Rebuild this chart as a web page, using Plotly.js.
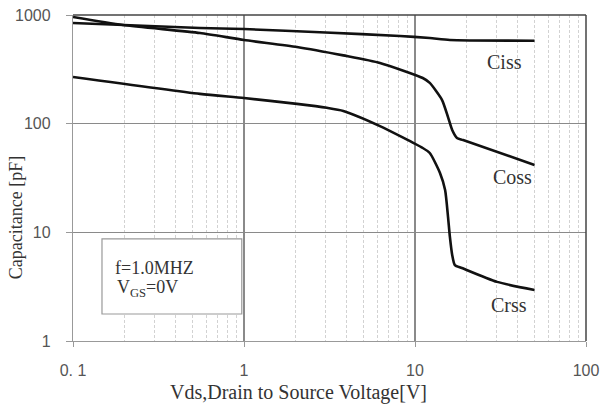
<!DOCTYPE html>
<html>
<head>
<meta charset="utf-8">
<script src="https://cdn.plot.ly/plotly-3.0.1.min.js"></script>
<style>html,body{margin:0;padding:0;background:#fff;}#chart{width:601px;height:414px;}</style>
</head>
<body>
<div id="chart"></div>
<script>
// Data (Vds in V, capacitance in pF)
const cissV = [0.1, 0.553, 1.0, 3.0, 8.17, 12.2, 16.0, 50];
const cissC = [844, 759, 743, 690, 641, 614, 589, 580];

const cossV = [0.1, 0.196, 0.553, 1.0, 2.04, 3.81, 6.24, 11.1, 12.2, 14.4, 15.6, 16.5, 17.6, 19.1, 50];
const cossC = [960, 809, 683, 589, 508, 425, 362, 263, 237, 165, 115, 87.5, 73.9, 70.7, 41.7];

const crssV = [0.1, 0.553, 1.0, 2.04, 3.05, 3.81, 6.24, 11.1, 12.2, 14.0, 15.0, 15.6, 16.0, 16.5, 17.1, 18.8, 30.2, 50];
const crssC = [269, 188, 172, 152, 140, 131, 95, 59.7, 53.7, 35.2, 24.5, 13.9, 9.08, 6.2, 5.0, 4.7, 3.5, 2.95];

const xTickVals = [0.1, 1, 10, 100];
const xTickText = ['0. 1', '1', '10', '100'];
const yTickVals = [1, 10, 100, 1000];
const yTickText = ['1', '10', '100', '1000'];
const xMinorVals = [0.2,0.3,0.4,0.5,0.6,0.7,0.8,0.9,2,3,4,5,6,7,8,9,20,30,40,50,60,70,80,90];

const lineStyle = {color: '#111', width: 2.6, shape: 'spline', smoothing: 0.6};
const traces = [
  {x: cissV, y: cissC, mode: 'lines', line: lineStyle, name: 'Ciss', hoverinfo: 'skip'},
  {x: cossV, y: cossC, mode: 'lines', line: lineStyle, name: 'Coss', hoverinfo: 'skip'},
  {x: crssV, y: crssC, mode: 'lines', line: lineStyle, name: 'Crss', hoverinfo: 'skip'}
];

const serif = 'Liberation Serif, Times New Roman, serif';
const tickFont = {family: 'Liberation Sans, Arial, sans-serif', size: 16, color: '#555'};
const ann = (x, y, text, size, extra) => Object.assign({xref: 'paper', yref: 'paper', x: x, y: y, text: text,
  showarrow: false, xanchor: 'center', yanchor: 'middle', font: {family: serif, size: size, color: '#333'}}, extra || {});

const layout = {
  width: 601, height: 414,
  margin: {l: 73, r: 15, t: 15, b: 73},
  paper_bgcolor: '#fff', plot_bgcolor: '#fff',
  showlegend: false,
  xaxis: {
    type: 'log', range: [-1, 2],
    tickmode: 'array', tickvals: xTickVals, ticktext: xTickText,
    tickfont: tickFont, ticks: 'outside', ticklen: 5, tickcolor: '#999',
    ticklabelstandoff: 10,
    showline: true, linecolor: '#999', linewidth: 1.2,
    showgrid: true, gridcolor: '#8a8a8a', gridwidth: 1.2,
    zeroline: false,
    minor: {tickmode: 'array', tickvals: xMinorVals, showgrid: true, gridcolor: '#d2d2d2', griddash: '3px,2px', gridwidth: 1, ticks: ''}
  },
  yaxis: {
    type: 'log', range: [0, 3],
    tickmode: 'array', tickvals: yTickVals, ticktext: yTickText,
    tickfont: tickFont, ticks: 'outside', ticklen: 6, tickcolor: '#999',
    ticklabelstandoff: 12,
    showline: true, linecolor: '#999', linewidth: 1.2,
    showgrid: true, gridcolor: '#8a8a8a', gridwidth: 1.2,
    zeroline: false
  },
  shapes: [
    {type: 'line', xref: 'paper', yref: 'paper', x0: 0, x1: 1, y0: 1, y1: 1, line: {color: '#444', width: 1.5}},
    {type: 'line', xref: 'paper', yref: 'paper', x0: 1, x1: 1, y0: 0, y1: 1, line: {color: '#444', width: 1.5}},
    {type: 'rect', xref: 'paper', yref: 'paper', x0: 0.0565, x1: 0.329, y0: 0.0828, y1: 0.313,
     line: {color: '#999', width: 1.2}, fillcolor: '#fff', layer: 'above'}
  ],
  annotations: [
    ann(0.842, 0.856, 'Ciss', 20),
    ann(0.856, 0.503, 'Coss', 20),
    ann(0.850, 0.110, 'Crss', 20),
    ann(0.078, 0.224, 'f=1.0MHZ', 18, {xanchor: 'left'}),
    ann(0.082, 0.160, 'V<sub>GS</sub>=0V', 18, {xanchor: 'left'}),
    ann(-0.111, 0.377, 'Capacitance [pF]', 18, {textangle: -90}),
    ann(0.4405, -0.1595, 'Vds,Drain to Source Voltage[V]', 20)
  ]
};

Plotly.newPlot('chart', traces, layout, {staticPlot: true, displayModeBar: false});
</script>
</body>
</html>
